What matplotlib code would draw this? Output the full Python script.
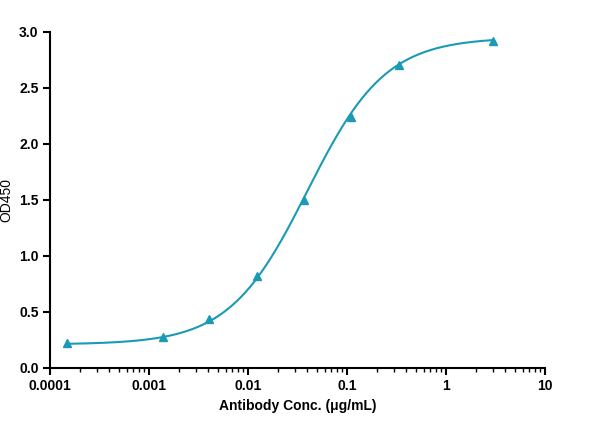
import numpy as np
import matplotlib
matplotlib.use("Agg")
import matplotlib.pyplot as plt

plt.rcParams['font.family'] = ['Liberation Sans', 'DejaVu Sans']

conc = [0.00015, 0.0014, 0.0041, 0.0123, 0.037, 0.111, 0.333, 3.0]
od = [0.22, 0.28, 0.44, 0.82, 1.50, 2.24, 2.70, 2.92]
# 4PL fit parameters
bottom, top, ec50, hill = 0.21, 2.95, 0.04, 1.1
color = "#1b9ab4"

fig = plt.figure(figsize=(6, 4.36), dpi=100)
ax = fig.add_axes([0.083, 0.156, 0.825, 0.771])
xs = np.logspace(np.log10(conc[0]), np.log10(conc[-1]), 300)
ys = bottom + (top - bottom) / (1 + (ec50 / xs) ** hill)
ax.plot(xs, ys, color=color, lw=1.5)
ax.plot(conc, od, "^", color=color, ms=6, clip_on=False)
ax.set_xscale("log")
ax.set_xlim(0.0001, 10)
ax.set_ylim(0, 3.0)
ax.set_xticks([0.0001, 0.001, 0.01, 0.1, 1, 10])
ax.set_xticklabels(["0.0001", "0.001", "0.01", "0.1", "1", "10"])
ax.set_yticks(np.arange(0, 3.01, 0.5))
ax.set_yticklabels([f"{v:.1f}" for v in np.arange(0, 3.01, 0.5)])
for s in ["top", "right"]:
    ax.spines[s].set_visible(False)
for s in ["left", "bottom"]:
    ax.spines[s].set_linewidth(1.5)
ax.tick_params(width=1.5, length=5, labelsize=10, pad=3)
ax.tick_params(which="minor", width=1.0, length=3)
for lab in ax.get_xticklabels() + ax.get_yticklabels():
    lab.set_fontweight("bold")
ax.set_xlabel("Antibody Conc. (μg/mL)", fontsize=10, fontweight="bold")
ax.set_ylabel("OD450", fontsize=10, labelpad=4)
fig.savefig("out.png", dpi=100)
